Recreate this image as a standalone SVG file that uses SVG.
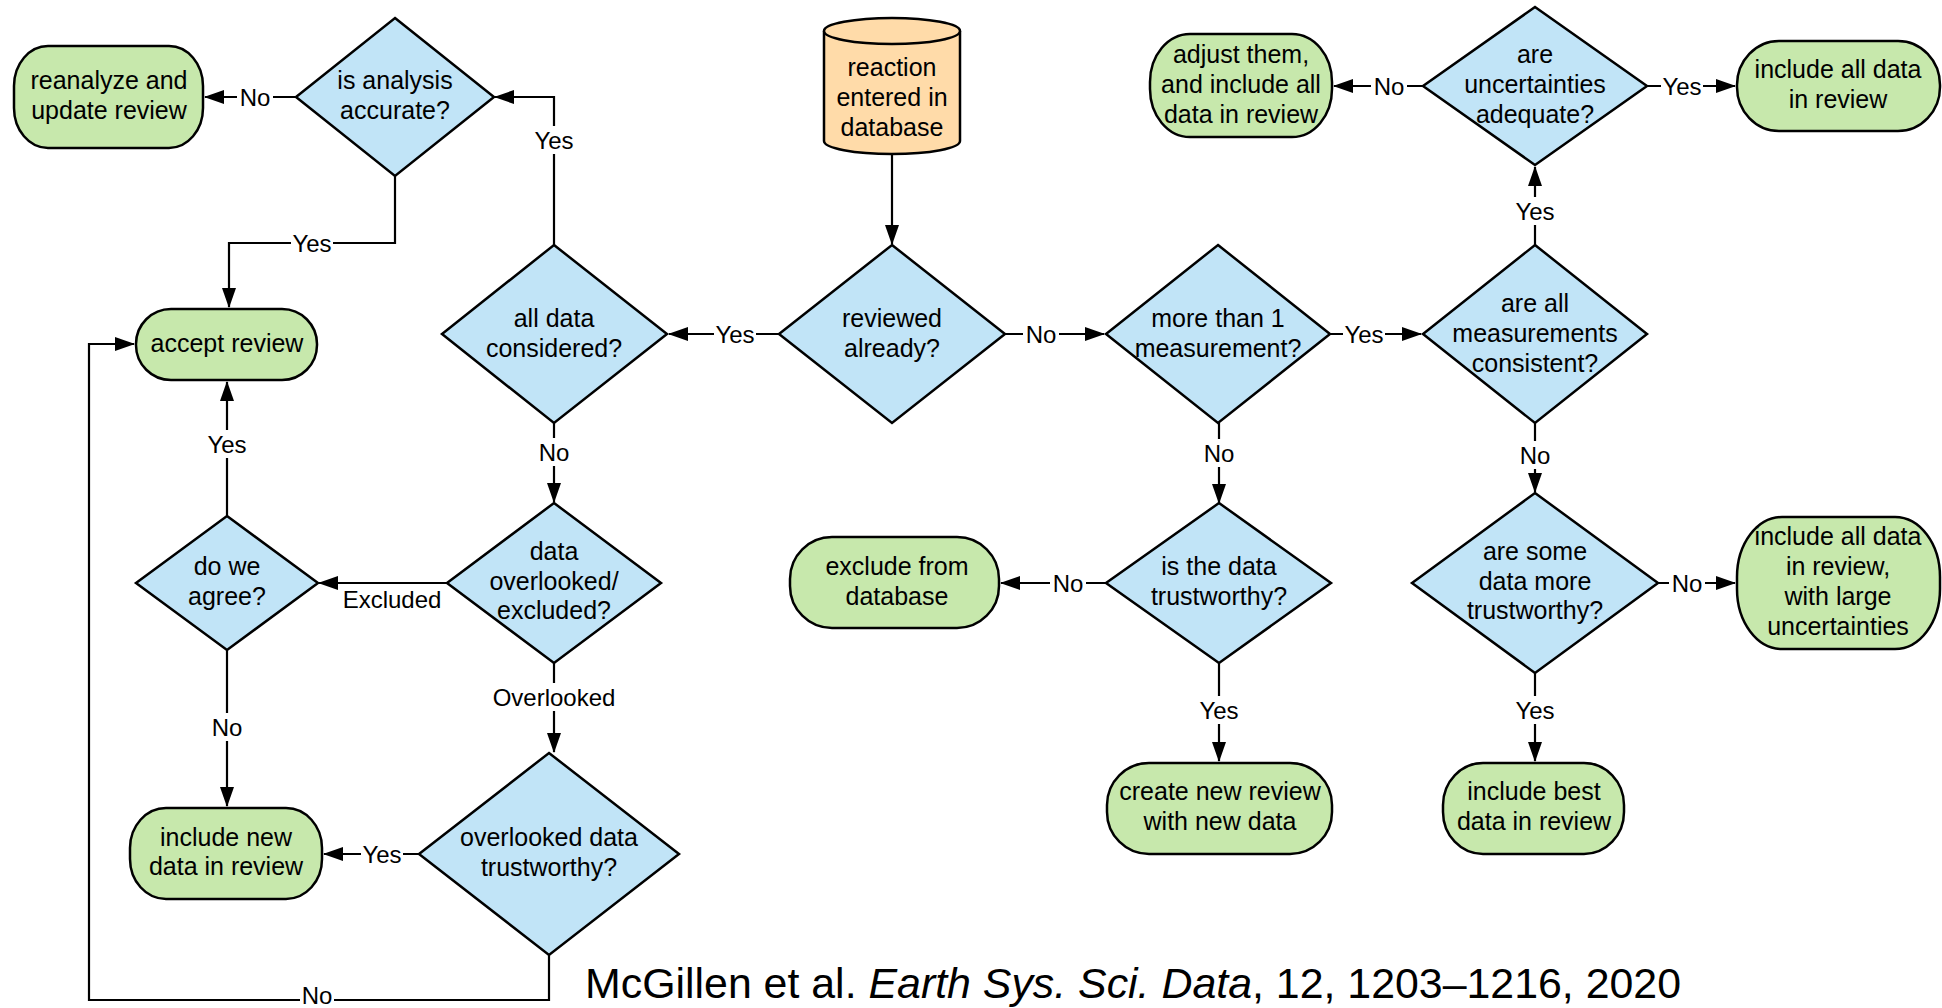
<svg xmlns="http://www.w3.org/2000/svg" width="1942" height="1008" viewBox="0 0 1942 1008">
<defs>
<style>
.term{fill:#c7e8ac;stroke:#000;stroke-width:2.5}
.dec{fill:#c1e4f7;stroke:#000;stroke-width:2.5}
.db{fill:#ffdba9;stroke:#000;stroke-width:2.5}
.t{font-family:"Liberation Sans",Arial,sans-serif;font-size:25px;fill:#000;text-anchor:middle;dominant-baseline:central}
.lbl{font-family:"Liberation Sans",Arial,sans-serif;font-size:24px;fill:#000;text-anchor:middle;dominant-baseline:central}
.c{fill:none;stroke:#000;stroke-width:2.2;marker-end:url(#ah)}
.bg{fill:#fff}
</style>
<marker id="ah" markerWidth="20" markerHeight="14" refX="19" refY="7" orient="auto" markerUnits="userSpaceOnUse">
<path d="M0,0 L20,7 L0,14 Z" fill="#000"/>
</marker>
</defs>
<rect width="1942" height="1008" fill="#fff"/>

<g id="connectors">
<path class="c" d="M295,97 H205"/>
<path class="c" d="M395,176 V243 H229 V307"/>
<path class="c" d="M554,245 V97 H495"/>
<path class="c" d="M892,154 V244"/>
<path class="c" d="M779,334 H669"/>
<path class="c" d="M1005,334 H1104"/>
<path class="c" d="M1330,334 H1421"/>
<path class="c" d="M1535,245 V167"/>
<path class="c" d="M1423,86 H1334"/>
<path class="c" d="M1647,86 H1735"/>
<path class="c" d="M554,423 V502"/>
<path class="c" d="M1219,423 V503"/>
<path class="c" d="M1535,423 V492"/>
<path class="c" d="M447,583 H319"/>
<path class="c" d="M1106,583 H1001"/>
<path class="c" d="M1658,583 H1735"/>
<path class="c" d="M227,516 V382"/>
<path class="c" d="M227,650 V806"/>
<path class="c" d="M554,663 V752"/>
<path class="c" d="M419,854 H324"/>
<path class="c" d="M549,955 V1000 H89 V344 H134"/>
<path class="c" d="M1219,663 V761"/>
<path class="c" d="M1535,673 V761"/>

<rect class="bg" x="237" y="84" width="36" height="26"/><text class="lbl" x="255" y="97">No</text>
<rect class="bg" x="291" y="230" width="42" height="26"/><text class="lbl" x="312" y="243">Yes</text>
<rect class="bg" x="533" y="126" width="42" height="28"/><text class="lbl" x="554" y="140">Yes</text>
<rect class="bg" x="714" y="321" width="42" height="26"/><text class="lbl" x="735" y="334">Yes</text>
<rect class="bg" x="1023" y="321" width="36" height="26"/><text class="lbl" x="1041" y="334">No</text>
<rect class="bg" x="1343" y="321" width="42" height="26"/><text class="lbl" x="1364" y="334">Yes</text>
<rect class="bg" x="1514" y="197" width="42" height="28"/><text class="lbl" x="1535" y="211">Yes</text>
<rect class="bg" x="1371" y="73" width="36" height="26"/><text class="lbl" x="1389" y="86">No</text>
<rect class="bg" x="1661" y="73" width="42" height="26"/><text class="lbl" x="1682" y="86">Yes</text>
<rect class="bg" x="536" y="438" width="36" height="28"/><text class="lbl" x="554" y="452">No</text>
<rect class="bg" x="1201" y="439" width="36" height="28"/><text class="lbl" x="1219" y="453">No</text>
<rect class="bg" x="1517" y="441" width="36" height="28"/><text class="lbl" x="1535" y="455">No</text>
<text class="lbl" x="392" y="599">Excluded</text>
<rect class="bg" x="1050" y="570" width="36" height="26"/><text class="lbl" x="1068" y="583">No</text>
<rect class="bg" x="1669" y="570" width="36" height="26"/><text class="lbl" x="1687" y="583">No</text>
<rect class="bg" x="206" y="430" width="42" height="28"/><text class="lbl" x="227" y="444">Yes</text>
<rect class="bg" x="209" y="713" width="36" height="28"/><text class="lbl" x="227" y="727">No</text>
<rect class="bg" x="490" y="683" width="128" height="28"/><text class="lbl" x="554" y="697">Overlooked</text>
<rect class="bg" x="361" y="841" width="42" height="26"/><text class="lbl" x="382" y="854">Yes</text>
<rect class="bg" x="300" y="987" width="34" height="20"/><text class="lbl" x="317" y="995" font-size="22">No</text>
<rect class="bg" x="1198" y="696" width="42" height="28"/><text class="lbl" x="1219" y="710">Yes</text>
<rect class="bg" x="1514" y="696" width="42" height="28"/><text class="lbl" x="1535" y="710">Yes</text>
</g>

<g id="reaction-db">
<path class="db" d="M824,31 V141 A68,13 0 0 0 960,141 V31 A68,13 0 0 0 824,31 Z"/>
<path class="db" d="M824,31 A68,13 0 0 0 960,31" fill="none"/>
<text class="t" x="892" y="67">reaction</text>
<text class="t" x="892" y="97">entered in</text>
<text class="t" x="892" y="127">database</text>
</g>

<g id="reviewed-already">
<polygon class="dec" points="892,245 1005,334 892,423 779,334"/>
<text class="t" x="892" y="318">reviewed</text>
<text class="t" x="892" y="348">already?</text>
</g>

<g id="all-data-considered">
<polygon class="dec" points="554,245 667,334 554,423 442,334"/>
<text class="t" x="554" y="318">all data</text>
<text class="t" x="554" y="348">considered?</text>
</g>

<g id="is-analysis-accurate">
<polygon class="dec" points="395,18 494,97 395,176 296,97"/>
<text class="t" x="395" y="80">is analysis</text>
<text class="t" x="395" y="110">accurate?</text>
</g>

<g id="reanalyze">
<rect class="term" x="14" y="46" width="189" height="102" rx="34" ry="40"/>
<text class="t" x="109" y="80">reanalyze and</text>
<text class="t" x="109" y="110">update review</text>
</g>

<g id="accept-review">
<rect class="term" x="136" y="309" width="181" height="71" rx="35" ry="35"/>
<text class="t" x="227" y="343">accept review</text>
</g>

<g id="data-overlooked-excluded">
<polygon class="dec" points="554,503 661,583 554,663 447,583"/>
<text class="t" x="554" y="551">data</text>
<text class="t" x="554" y="581">overlooked/</text>
<text class="t" x="554" y="610">excluded?</text>
</g>

<g id="do-we-agree">
<polygon class="dec" points="227,516 318,583 227,650 136,583"/>
<text class="t" x="227" y="566">do we</text>
<text class="t" x="227" y="596">agree?</text>
</g>

<g id="include-new-data">
<rect class="term" x="130" y="808" width="192" height="91" rx="36" ry="40"/>
<text class="t" x="226" y="837">include new</text>
<text class="t" x="226" y="866">data in review</text>
</g>

<g id="overlooked-data-trustworthy">
<polygon class="dec" points="549,753 679,854 549,955 419,854"/>
<text class="t" x="549" y="837">overlooked data</text>
<text class="t" x="549" y="867">trustworthy?</text>
</g>

<g id="more-than-one">
<polygon class="dec" points="1218,245 1330,334 1218,423 1106,334"/>
<text class="t" x="1218" y="318">more than 1</text>
<text class="t" x="1218" y="348">measurement?</text>
</g>

<g id="is-data-trustworthy">
<polygon class="dec" points="1219,503 1331,583 1219,663 1106,583"/>
<text class="t" x="1219" y="566">is the data</text>
<text class="t" x="1219" y="596">trustworthy?</text>
</g>

<g id="exclude-from-db">
<rect class="term" x="790" y="537" width="209" height="91" rx="42" ry="42"/>
<text class="t" x="897" y="566">exclude from</text>
<text class="t" x="897" y="596">database</text>
</g>

<g id="create-new-review">
<rect class="term" x="1107" y="763" width="225" height="91" rx="42" ry="42"/>
<text class="t" x="1220" y="791">create new review</text>
<text class="t" x="1220" y="821">with new data</text>
</g>

<g id="measurements-consistent">
<polygon class="dec" points="1535,245 1647,334 1535,423 1423,334"/>
<text class="t" x="1535" y="303">are all</text>
<text class="t" x="1535" y="333">measurements</text>
<text class="t" x="1535" y="363">consistent?</text>
</g>

<g id="uncertainties-adequate">
<polygon class="dec" points="1535,7 1647,86 1535,165 1423,86"/>
<text class="t" x="1535" y="54">are</text>
<text class="t" x="1535" y="84">uncertainties</text>
<text class="t" x="1535" y="114">adequate?</text>
</g>

<g id="adjust-them">
<rect class="term" x="1150" y="34" width="182" height="103" rx="40" ry="48"/>
<text class="t" x="1241" y="54">adjust them,</text>
<text class="t" x="1241" y="84">and include all</text>
<text class="t" x="1241" y="114">data in review</text>
</g>

<g id="include-all-data">
<rect class="term" x="1737" y="41" width="203" height="90" rx="42" ry="44"/>
<text class="t" x="1838" y="69">include all data</text>
<text class="t" x="1838" y="99">in review</text>
</g>

<g id="some-data-more-trustworthy">
<polygon class="dec" points="1535,493 1658,583 1535,673 1412,583"/>
<text class="t" x="1535" y="551">are some</text>
<text class="t" x="1535" y="581">data more</text>
<text class="t" x="1535" y="610">trustworthy?</text>
</g>

<g id="include-all-large-unc">
<rect class="term" x="1737" y="517" width="203" height="132" rx="45" ry="60"/>
<text class="t" x="1838" y="536">include all data</text>
<text class="t" x="1838" y="566">in review,</text>
<text class="t" x="1838" y="596">with large</text>
<text class="t" x="1838" y="626">uncertainties</text>
</g>

<g id="include-best-data">
<rect class="term" x="1443" y="763" width="181" height="91" rx="40" ry="42"/>
<text class="t" x="1534" y="791">include best</text>
<text class="t" x="1534" y="821">data in review</text>
</g>

<text x="585" y="998" font-family="'Liberation Sans',Arial,sans-serif" font-size="42" fill="#000" textLength="1096" lengthAdjust="spacingAndGlyphs">McGillen et al. <tspan font-style="italic">Earth Sys. Sci. Data</tspan>, 12, 1203–1216, 2020</text>
</svg>
